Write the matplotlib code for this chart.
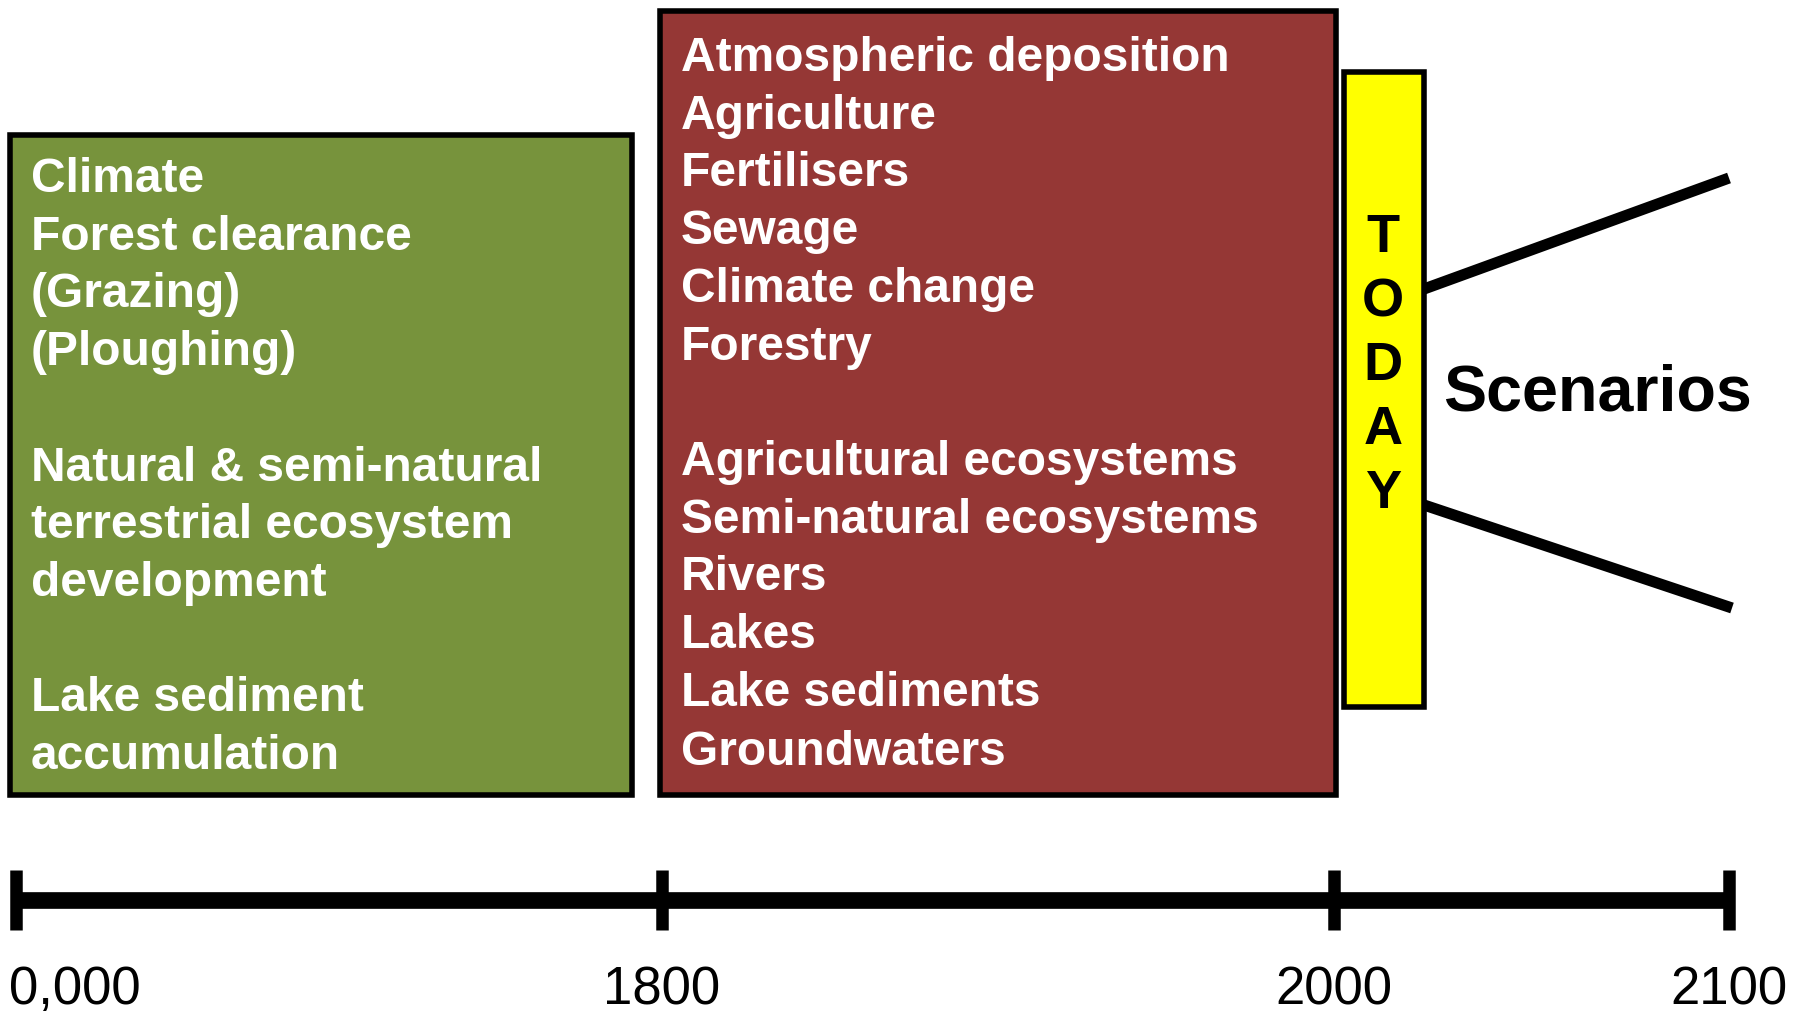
import matplotlib
matplotlib.use("Agg")
import matplotlib.pyplot as plt
import matplotlib.font_manager as fm
from matplotlib.patches import Rectangle

# ---------------- data ----------------
timeline_labels = ["0,000", "1800", "2000", "2100"]
past_items = ["Climate", "Forest clearance", "(Grazing)", "(Ploughing)", "",
              "Natural & semi-natural", "terrestrial ecosystem", "development", "",
              "Lake sediment", "accumulation"]
recent_items = ["Atmospheric deposition", "Agriculture", "Fertilisers", "Sewage",
                "Climate change", "Forestry", "",
                "Agricultural ecosystems", "Semi-natural ecosystems", "Rivers",
                "Lakes", "Lake sediments", "Groundwaters"]
today_label = "TODAY"
future_label = "Scenarios"

# ---------------- layout (pixel units) ----------------
W, H = 1793, 1013
tick_x = [16, 662, 1334, 1729]
axis_y = 900
tick_half = 30
green_box = (10, 135, 632, 795)
red_box = (660, 11, 1336, 795)
yellow_box = (1344, 72, 1424, 707)
scen_up = ((1424, 289), (1729, 178))
scen_dn = ((1424, 505), (1732, 608))

GREEN = "#77933C"
RED = "#953735"
YELLOW = "#FFFF00"

names = {f.name for f in fm.fontManager.ttflist}
NARROW = "Liberation Sans Narrow" if "Liberation Sans Narrow" in names else "Liberation Sans"
BOLD = "Liberation Sans"
BOX_FS = 38 if NARROW == "Liberation Sans Narrow" else 34.5
TICK_FS = 43 if NARROW == "Liberation Sans Narrow" else 38

fig = plt.figure(figsize=(W / 100, H / 100), dpi=100)
ax = fig.add_axes([0, 0, 1, 1])
ax.set_xlim(0, W)
ax.set_ylim(H, 0)
ax.axis("off")


def box(b, color):
    x0, y0, x1, y1 = b
    ax.add_patch(Rectangle((x0, y0), x1 - x0, y1 - y0, facecolor=color,
                           edgecolor="black", linewidth=4, zorder=1))


box(green_box, GREEN)
box(red_box, RED)
box(yellow_box, YELLOW)

# box texts
for i, t in enumerate(past_items):
    if t:
        ax.text(31, 192 + i * 57.7, t, color="white", fontsize=BOX_FS,
                family=NARROW, weight="bold", ha="left", va="baseline", zorder=3)
for i, t in enumerate(recent_items):
    if t:
        extra = 2 if i == len(recent_items) - 1 else 0
        ax.text(681, 71 + i * 57.7 + extra, t, color="white", fontsize=BOX_FS,
                family=NARROW, weight="bold", ha="left", va="baseline", zorder=3)

# TODAY
for i, ch in enumerate(today_label):
    ax.text(1383, 252 + i * 64, ch, color="black", fontsize=39, family=BOLD,
            weight="bold", ha="center", va="baseline", zorder=3)

# scenario lines
for (p0, p1) in (scen_up, scen_dn):
    ax.plot([p0[0], p1[0]], [p0[1], p1[1]], color="black", lw=8,
            solid_capstyle="butt", zorder=2)
ax.text(1443, 410, future_label, color="black", fontsize=46.5, family=BOLD,
        weight="bold", ha="left", va="baseline", zorder=3)

# timeline
ax.plot([tick_x[0], tick_x[-1]], [axis_y, axis_y], color="black", lw=12,
        solid_capstyle="butt", zorder=2)
for i, x in enumerate(tick_x):
    ax.plot([x, x], [axis_y - tick_half, axis_y + tick_half], color="black",
            lw=9, solid_capstyle="butt", zorder=2)
    if i == 0:
        ax.text(9, 1004, timeline_labels[i], fontsize=TICK_FS, family=NARROW,
                ha="left", va="baseline", color="black")
    else:
        ax.text(x, 1004, timeline_labels[i], fontsize=TICK_FS, family=NARROW,
                ha="center", va="baseline", color="black")

fig.savefig("out.png", dpi=100, facecolor="white")
